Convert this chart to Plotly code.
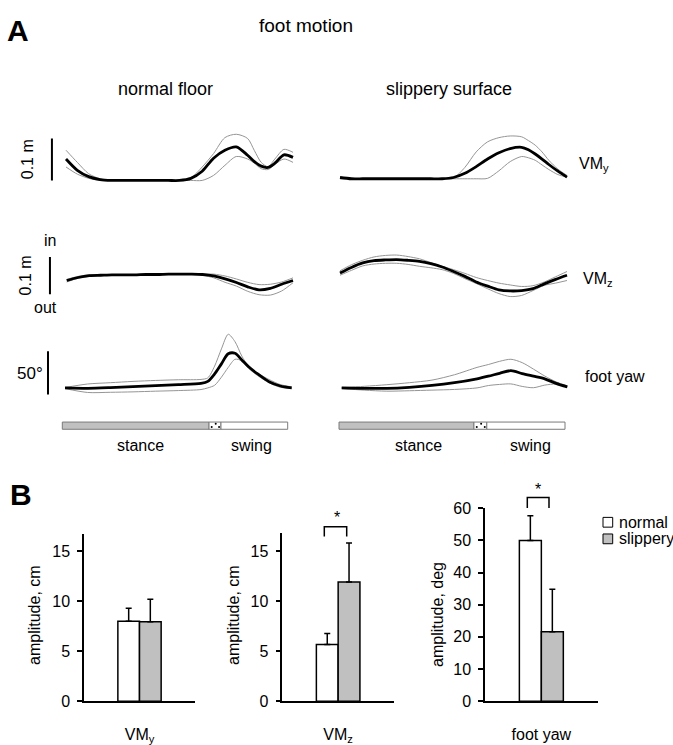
import plotly.graph_objects as go

W, H = 673, 745
FONT = "Liberation Sans, Arial, Helvetica, sans-serif"
FONT_NARROW = "Liberation Sans Narrow, Liberation Sans, Arial, sans-serif"

# ---------------- Panel A: foot motion over the step cycle (% of cycle) ----------------
# VMy: vertical foot displacement, cm
vmy_x = [0, 5, 10, 15, 20, 25, 30, 35, 40, 45, 50, 55, 60, 65, 70, 75, 80, 83, 86, 89, 92, 96, 100]
vmy_normal_mean = [5.1, 2.4, 0.9, 0.2, 0, 0, 0, 0, 0, 0, 0, 0.5, 2.2, 5.3, 7.2, 8.0, 6.0, 4.5, 3.4, 3.1, 4.1, 6.1, 5.5]
vmy_normal_upper = [7.2, 4.3, 1.6, 0.4, 0, 0, 0, 0, 0, 0, 0, 0.6, 3.2, 6.4, 10.2, 11.0, 10.0, 7.1, 4.3, 3.3, 5.1, 7.4, 6.7]
vmy_normal_lower = [3.2, 1.5, 0.5, 0, 0, 0, 0, 0, 0, 0, 0, 0, 0, 1.2, 3.6, 5.7, 5.1, 4.1, 2.8, 2.6, 3.8, 5.1, 4.3]
vmy_slip_mean = [0.3, 0, 0, 0, 0, 0, 0, 0, 0, 0, 0.3, 1.3, 2.9, 4.7, 6.2, 7.2, 7.5, 6.9, 5.9, 4.7, 3.4, 1.8, 0.4]
vmy_slip_upper = [0.1, 0, 0, 0, 0, 0, 0, 0, 0, 0, 0.2, 2.7, 6.4, 8.8, 9.8, 10.2, 10.0, 9.1, 8.0, 6.4, 4.4, 2.3, 0.8]
vmy_slip_lower = [0, 0, 0, 0, 0, 0, 0, 0, 0, 0, 0, 0, 0, 0.1, 1.9, 4.1, 5.3, 5.0, 4.4, 3.3, 2.2, 1.0, 0.4]

# VMz: mediolateral foot displacement (in = positive), cm
vmz_x = [0, 5, 10, 15, 20, 25, 30, 35, 40, 45, 50, 55, 60, 65, 70, 75, 80, 85, 90, 95, 100]
vmz_normal_mean = [0.2, 1.0, 1.5, 1.6, 1.7, 1.7, 1.7, 1.8, 1.8, 1.9, 1.9, 1.9, 1.8, 1.4, 0.65, -0.35, -1.5, -2.3, -1.9, -0.8, 0.2]
vmz_normal_upper = [0.5, 1.3, 1.7, 1.7, 1.8, 1.8, 1.8, 1.9, 1.9, 2.0, 2.0, 2.0, 1.9, 1.9, 1.4, 0.6, -0.3, -0.9, -0.8, -0.2, 0.9]
vmz_normal_lower = [-0.2, 0.8, 1.3, 1.5, 1.6, 1.6, 1.6, 1.7, 1.7, 1.8, 1.8, 1.8, 1.6, 0.9, -0.3, -1.3, -2.7, -3.6, -3.7, -2.6, -0.4]
vmz_slip_mean = [2.2, 3.7, 4.9, 5.5, 5.7, 5.8, 5.6, 5.3, 4.7, 3.8, 2.6, 1.3, -0.2, -1.3, -2.3, -2.6, -2.5, -2.0, -0.7, 0.5, 1.6]
vmz_slip_upper = [2.8, 4.4, 5.6, 6.5, 6.9, 7.0, 6.6, 6.0, 5.0, 4.0, 3.1, 2.1, 1.0, 0.2, -0.5, -1.0, -1.4, -1.2, -0.2, 1.2, 2.6]
vmz_slip_lower = [1.6, 2.9, 4.1, 4.6, 4.8, 4.8, 4.5, 4.0, 3.6, 3.1, 2.1, 0.7, -0.6, -2.0, -3.3, -4.1, -3.8, -2.5, -1.1, -0.5, 0.2]

# foot yaw, degrees
yaw_normal_x = [0, 10, 20, 30, 40, 50, 60, 63, 66, 69, 72, 75, 78, 81, 85, 90, 95, 100]
yaw_normal_mean = [0.8, 0.3, 1.1, 2.3, 3.4, 4.5, 6.0, 8.3, 16.9, 28.6, 40.2, 40.8, 33.1, 25.2, 16.9, 7.9, 3.0, 0.8]
yaw_normal_upper = [1.2, 5.3, 6.8, 8.3, 9.4, 10.2, 10.6, 12.4, 26.0, 45.9, 62.8, 54.2, 37.6, 25.6, 17.6, 10.5, 4.6, 1.9]
yaw_normal_lower = [0, -4.5, -4.3, -3.8, -3.0, -2.3, -1.1, 0.8, 3.8, 13.2, 24.5, 33.9, 32.0, 23.3, 15.0, 6.8, 1.5, 0]
yaw_slip_x = [0, 10, 20, 30, 40, 50, 60, 65, 70, 75, 80, 85, 90, 95, 100]
yaw_slip_mean = [0.8, 0.3, 0.3, 1.5, 3.6, 6.8, 11.3, 14.3, 17.7, 20.7, 17.3, 14.3, 11.3, 6.0, 1.9]
yaw_slip_upper = [1.2, 2.6, 4.5, 6.8, 9.8, 16.0, 24.5, 27.8, 31.5, 33.9, 30.0, 22.5, 14.5, 7.8, 3.0]
yaw_slip_lower = [0, -1.8, -3.0, -2.5, -1.8, -1.0, 0.8, 3.5, 4.8, 5.4, 2.5, 1.0, 4.0, 5.2, 1.9]

# step phases (% of cycle): stance ends, double-support band ends
phase_normal = [0, 65.1, 70.4, 100]
phase_slip = [0, 59.7, 65.4, 100]

# calibration bars
scale_vm_cm = 10      # 0.1 m
scale_yaw_deg = 50

# ---------------- Panel B: amplitudes ----------------
categories = ["VMy", "VMz", "foot yaw"]
cat_labels = ["VM<sub>y</sub>", "VM<sub>z</sub>", "foot yaw"]
amp_normal = [8.0, 5.65, 50.0]
amp_slip = [7.95, 11.9, 21.6]
err_normal = [1.3, 1.1, 7.7]
err_slip = [2.25, 3.9, 13.2]
y_ranges = [[0, 16.7], [0, 16.75], [0, 60]]
y_ticks = [[0, 5, 10, 15], [0, 5, 10, 15], [0, 10, 20, 30, 40, 50, 60]]
y_titles = ["amplitude, cm", "amplitude, cm", "amplitude, deg"]

GRAY = "#c0c0c0"
ENV = "#959595"

fig = go.Figure()
layout = dict(width=W, height=H, autosize=False, margin=dict(l=0, r=0, t=0, b=0),
              paper_bgcolor="white", plot_bgcolor="white", showlegend=False,
              barmode="group", bargap=0.61, bargroupgap=0,
              font=dict(family=FONT, size=16, color="black"))


def px(v):
    return v / W


def py(v):
    return 1 - v / H


def trace_axes(n, left, right, xmin, xmax, top, bottom, zero, k):
    """Axis pair n; left/right = pixel x of 0 % and 100 %; zero = pixel y of value 0; k = px per unit."""
    kx = (right - left) / 100.0
    layout["xaxis%d" % n] = dict(domain=[px(left + xmin * kx), px(left + xmax * kx)], range=[xmin, xmax],
                                  visible=False, anchor="y%d" % n, fixedrange=True)
    layout["yaxis%d" % n] = dict(domain=[py(bottom), py(top)], range=[(zero - bottom) / k, (zero - top) / k],
                                  visible=False, anchor="x%d" % n, fixedrange=True)


trace_axes(1, 66, 293, -9, 102, 118, 186, 176.7, 4.3)
trace_axes(2, 340, 567, -2, 102, 118, 186, 175.0, 4.3)
trace_axes(3, 66.7, 293, -9, 102, 236, 306, 280, 3.83)
trace_axes(4, 340, 567, -2, 102, 236, 306, 280, 3.83)
trace_axes(5, 65, 291.7, -9, 102, 322, 406, 390, 0.886)
trace_axes(6, 341.7, 567.3, -2, 102, 322, 406, 390, 0.886)


def add_bundle(n, x, mean, upper, lower):
    for ys in (upper, lower):
        fig.add_trace(go.Scatter(x=x, y=ys, mode="lines", xaxis="x%d" % n, yaxis="y%d" % n,
                                 line=dict(color=ENV, width=1, shape="spline", smoothing=0.8),
                                 hoverinfo="skip"))
    fig.add_trace(go.Scatter(x=x, y=mean, mode="lines", xaxis="x%d" % n, yaxis="y%d" % n,
                             line=dict(color="black", width=2.8, shape="spline", smoothing=0.8),
                             hoverinfo="skip"))


add_bundle(1, vmy_x, vmy_normal_mean, vmy_normal_upper, vmy_normal_lower)
add_bundle(2, vmy_x, vmy_slip_mean, vmy_slip_upper, vmy_slip_lower)
add_bundle(3, vmz_x, vmz_normal_mean, vmz_normal_upper, vmz_normal_lower)
add_bundle(4, vmz_x, vmz_slip_mean, vmz_slip_upper, vmz_slip_lower)
add_bundle(5, yaw_normal_x, yaw_normal_mean, yaw_normal_upper, yaw_normal_lower)
add_bundle(6, yaw_slip_x, yaw_slip_mean, yaw_slip_upper, yaw_slip_lower)

shapes = []
# calibration bars, in each row's own units
for n, xpos, y0, length in ((1, -6.2, 0, scale_vm_cm), (3, -7.4, -3.5, scale_vm_cm), (5, -7.5, -6.8, scale_yaw_deg)):
    shapes.append(dict(type="line", xref="x%d" % n, yref="y%d" % n, x0=xpos, x1=xpos, y0=y0, y1=y0 + length,
                       line=dict(color="black", width=2)))

# stance / swing bars
bar_top, bar_bot = 424.3, 431.7
dot_rel = [(0.22, 429.3), (0.56, 426.0), (0.84, 429.3)]
for (left, right), ph in (((62.3, 287.7), phase_normal), ((339, 565), phase_slip)):
    xs = [left + f / 100.0 * (right - left) for f in ph]
    shapes.append(dict(type="rect", xref="paper", yref="paper", x0=px(xs[0]), x1=px(xs[1]), y0=py(bar_bot), y1=py(bar_top),
                       fillcolor=GRAY, line=dict(color="#7a7a7a", width=1)))
    shapes.append(dict(type="rect", xref="paper", yref="paper", x0=px(xs[1]), x1=px(xs[2]), y0=py(bar_bot), y1=py(bar_top),
                       fillcolor="white", line=dict(color="#7a7a7a", width=1)))
    shapes.append(dict(type="rect", xref="paper", yref="paper", x0=px(xs[2]), x1=px(xs[3]), y0=py(bar_bot), y1=py(bar_top),
                       fillcolor="white", line=dict(color="#7a7a7a", width=1)))
    for fr, dy in dot_rel:
        cx = xs[1] + fr * (xs[2] - xs[1])
        shapes.append(dict(type="circle", xref="paper", yref="paper", x0=px(cx - 1), x1=px(cx + 1),
                           y0=py(dy + 1), y1=py(dy - 1), fillcolor="black", line=dict(width=0)))

annotations = []


def txt(s, x, y, size=16, anchor="center", angle=0, family=FONT):
    annotations.append(dict(text=s, x=px(x), y=py(y), xref="paper", yref="paper", xanchor=anchor, yanchor="middle",
                            showarrow=False, textangle=angle, font=dict(size=size, family=family, color="black")))


txt("<b>A</b>", 18, 23, size=30, family=FONT_NARROW)
txt("foot motion", 306, 18, size=19)
txt("normal floor", 165, 83, size=18)
txt("slippery surface", 449, 83, size=18)
txt("0.1 m", 27, 155, size=16, angle=-90)
txt("in", 50, 238, size=16)
txt("0.1 m", 25, 274, size=16, angle=-90)
txt("out", 45, 307, size=16)
txt("50°", 30, 375, size=17)
txt("VM<sub>y</sub>", 577, 160, size=16, anchor="left")
txt("VM<sub>z</sub>", 581, 278, size=16, anchor="left")
txt("foot yaw", 583, 378, size=16, anchor="left")
for cx in (140, 418.7):
    txt("stance", cx, 448)
for cx in (251.3, 530.3):
    txt("swing", cx, 448)

# ---------------- Panel B axes and bars ----------------
b_x_domains = [(84, 195), (282.3, 394), (485, 597.7)]
b_y_tops = [539.3, 538.5, 512.7]
b_zero = 710.3
for i in range(3):
    n = 7 + i
    l, r = b_x_domains[i]
    layout["xaxis%d" % n] = dict(domain=[px(l), px(r)], anchor="y%d" % n, type="category",
                                  showline=True, linecolor="black", linewidth=1.5, ticks="",
                                  tickvals=[categories[i]], ticktext=[cat_labels[i]],
                                  tickfont=dict(size=16), ticklabelstandoff=18, showgrid=False, fixedrange=True)
    layout["yaxis%d" % n] = dict(domain=[py(b_zero), py(b_y_tops[i])], anchor="x%d" % n, range=y_ranges[i],
                                  tickvals=y_ticks[i], showline=True, linecolor="black", linewidth=1.5,
                                  ticks="outside", ticklen=5, tickwidth=1.5, tickcolor="black",
                                  tickfont=dict(size=16), ticklabelstandoff=4, showgrid=False, zeroline=False,
                                  fixedrange=True)
    fig.add_trace(go.Bar(x=[categories[i]], y=[amp_normal[i]], xaxis="x%d" % n, yaxis="y%d" % n, name="normal",
                         marker=dict(color="white", line=dict(color="black", width=1.5)),
                         error_y=dict(type="data", symmetric=False, array=[err_normal[i]], arrayminus=[0],
                                      color="black", thickness=1.5, width=3), hoverinfo="skip"))
    fig.add_trace(go.Bar(x=[categories[i]], y=[amp_slip[i]], xaxis="x%d" % n, yaxis="y%d" % n, name="slippery",
                         marker=dict(color=GRAY, line=dict(color="black", width=1.5)),
                         error_y=dict(type="data", symmetric=False, array=[err_slip[i]], arrayminus=[0],
                                      color="black", thickness=1.5, width=3), hoverinfo="skip"))

txt("<b>B</b>", 21, 499, size=30, family=FONT_NARROW)
for x, t in zip((35, 234, 438), y_titles):
    txt(t, x, 622, angle=-90)

# significance brackets
for (l, r, top, leg), (sx, sy) in (((324.3, 346.7, 531.7, 541.7), (336.7, 522)),
                                    ((527.3, 549.0, 501.7, 512.3), (538.3, 493))):
    shapes.append(dict(type="path", xref="paper", yref="paper",
                       path="M %f %f L %f %f L %f %f L %f %f" % (px(l), py(leg), px(l), py(top), px(r), py(top), px(r), py(leg)),
                       line=dict(color="black", width=1.5)))
    txt("*", sx, sy, size=16)

# legend
for label, color, cy in (("normal", "white", 527), ("slippery", GRAY, 544)):
    shapes.append(dict(type="rect", xref="paper", yref="paper", x0=px(603), x1=px(612.7), y0=py(cy + 5), y1=py(cy - 5),
                       fillcolor=color, line=dict(color="black", width=1)))
    txt(label, 617, cy, anchor="left")

layout["shapes"] = shapes
layout["annotations"] = annotations
fig.update_layout(**layout)
fig.write_html("out.html")
